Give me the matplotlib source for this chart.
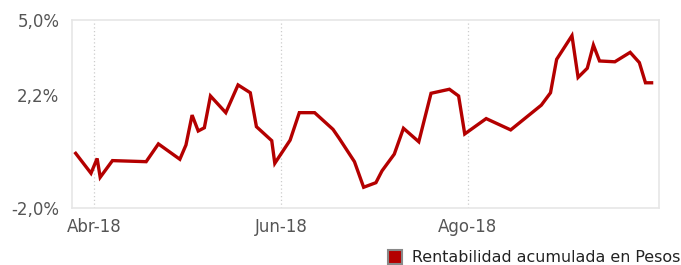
import matplotlib.pyplot as plt
import matplotlib.ticker as ticker
import numpy as np
import pandas as pd

dates = ["2018-03-26", "2018-03-31", "2018-04-02", "2018-04-03", "2018-04-07",
         "2018-04-18", "2018-04-22", "2018-04-29", "2018-05-01", "2018-05-03",
         "2018-05-05", "2018-05-07", "2018-05-09", "2018-05-14", "2018-05-18",
         "2018-05-22", "2018-05-24", "2018-05-29", "2018-05-30", "2018-06-04",
         "2018-06-07", "2018-06-12", "2018-06-18", "2018-06-20", "2018-06-25",
         "2018-06-28", "2018-07-02", "2018-07-04", "2018-07-08", "2018-07-11",
         "2018-07-16", "2018-07-20", "2018-07-26", "2018-07-29", "2018-07-31",
         "2018-08-07", "2018-08-15", "2018-08-25", "2018-08-28", "2018-08-30",
         "2018-09-04", "2018-09-06", "2018-09-09", "2018-09-11", "2018-09-13",
         "2018-09-18", "2018-09-23", "2018-09-26", "2018-09-28", "2018-09-30"]
rent = [0.03, -0.71, -0.16, -0.86, -0.24, -0.28, 0.38, -0.19, 0.34, 1.45,
        0.86, 0.98, 2.16, 1.54, 2.57, 2.28, 1.02, 0.50, -0.34, 0.52,
        1.54, 1.54, 0.92, 0.59, -0.28, -1.23, -1.06, -0.62, 0.00, 0.96,
        0.46, 2.26, 2.41, 2.16, 0.75, 1.32, 0.90, 1.82, 2.28, 3.52,
        4.40, 2.85, 3.19, 4.05, 3.46, 3.43, 3.78, 3.40, 2.65, 2.65]

month_ticks = ["2018-04-01", "2018-06-01", "2018-08-01"]
month_labels = ["Abr-18", "Jun-18", "Ago-18"]
y_ticks = [-2.0, 2.2, 5.0]
series_name = "Rentabilidad acumulada en Pesos"

x = pd.to_datetime(dates)
xt = pd.to_datetime(month_ticks)

fig = plt.figure(figsize=(6.81, 2.65), dpi=100)
ax = fig.add_axes([0.1057, 0.2151, 0.862, 0.7113])

ax.plot(x, rent, color='#b40000', linewidth=2.4, solid_joinstyle='miter',
        label=series_name)

ax.set_xlim(pd.Timestamp("2018-03-24 19:00"), pd.Timestamp("2018-10-02 10:00"))
ax.set_ylim(-2.0, 5.0)

ax.set_xticks(xt)
ax.set_xticklabels(month_labels)
ax.set_yticks(y_ticks)
ax.yaxis.set_major_formatter(ticker.FuncFormatter(
    lambda v, p: "{:.1f}%".format(v).replace('.', ',')))

for d in xt:
    ax.axvline(d, color='#cccccc', linewidth=0.9, linestyle=(0, (1, 2)), zorder=0)

for s in ax.spines.values():
    s.set_color('#e6e6e6')
    s.set_linewidth(1.2)

ax.tick_params(axis='both', length=0, labelsize=12, labelcolor='#555555')
ax.tick_params(axis='x', pad=7)
ax.tick_params(axis='y', pad=9)

handle = plt.Line2D([], [], marker='s', linestyle='none', markersize=10.5,
                    markerfacecolor='#b40000', markeredgecolor='#888888',
                    markeredgewidth=1.5)
fig.legend([handle], [series_name], loc='lower right',
           bbox_to_anchor=(1.02, -0.055), frameon=False, fontsize=11.4,
           handlelength=1.0, handletextpad=0.55, labelcolor='#222222')

fig.savefig("out.png", dpi=100)
